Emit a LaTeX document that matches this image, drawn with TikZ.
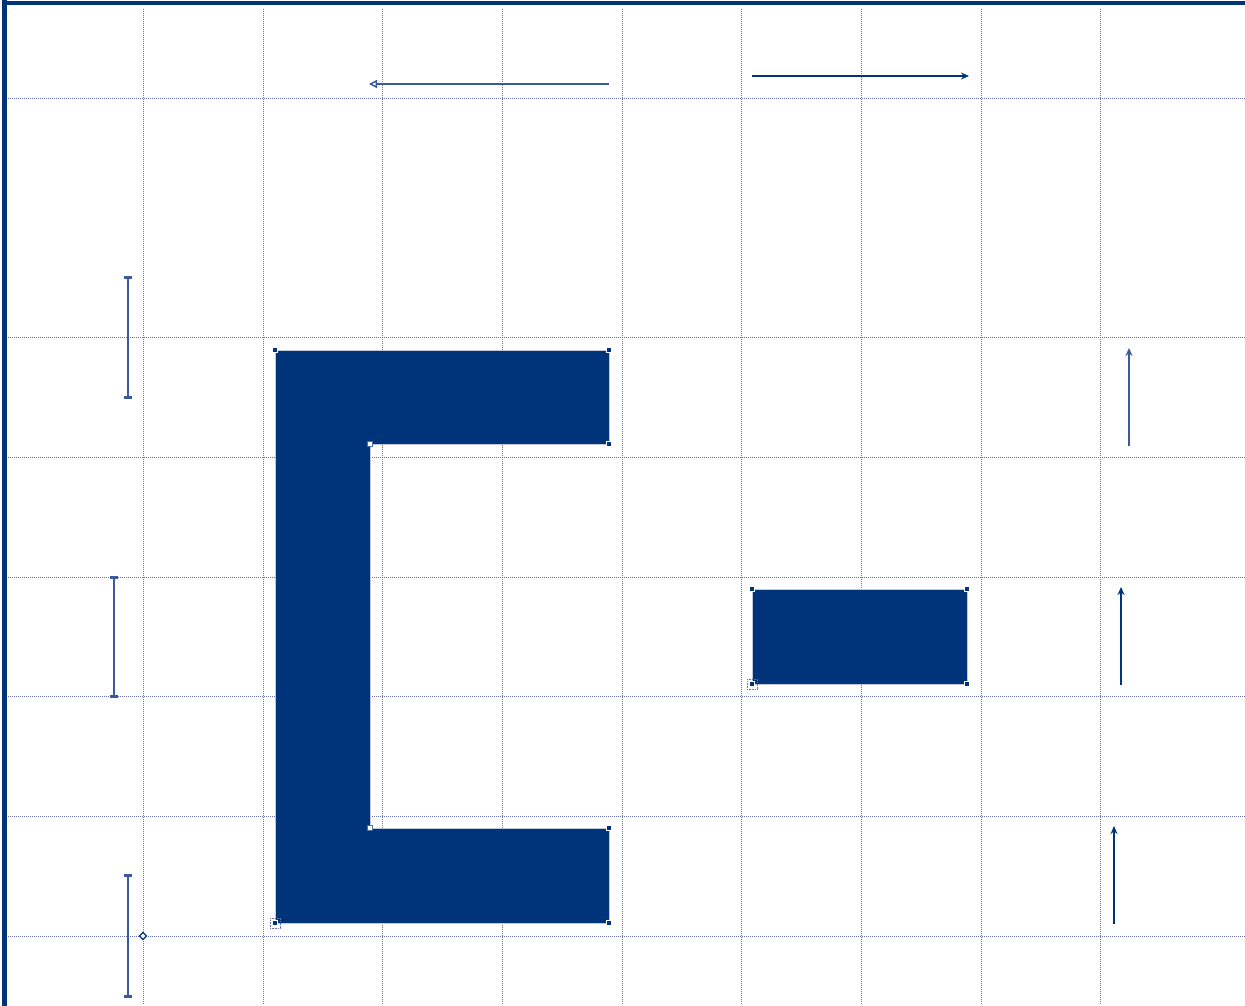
\documentclass[tikz,border=0pt]{standalone}
\usetikzlibrary{arrows.meta}
\definecolor{navy}{RGB}{0,52,122}
\definecolor{gridc}{RGB}{105,115,175}
\definecolor{arrc}{RGB}{60,88,158}
\tikzset{
  gridline/.style={draw=gridc, line width=0.9pt, dash pattern=on 1pt off 1pt},
  shapefill/.style={fill=navy, draw=gridc!40, line width=0.8pt},
  handle/.style={fill=navy, draw=white, line width=0.5pt, minimum size=5pt, inner sep=0pt, rectangle},
  ihandle/.style={fill=white, draw=navy!70, line width=0.8pt, minimum size=5pt, inner sep=0pt, rectangle},
  ohandle/.style={draw=gridc, line width=0.6pt, dash pattern=on 1pt off 0.6pt, minimum size=10pt, inner sep=0pt, rectangle},
  measure/.style={draw=arrc, line width=1.5pt, {Bar[width=8pt,line width=2.8pt]}-{Bar[width=8pt,line width=2.8pt]}},
  uparrow/.style={draw=navy, line width=1.5pt, -{Stealth[length=8pt,width=7pt]}},
}
\begin{document}
\begin{tikzpicture}[x=1pt,y=-1pt]
\useasboundingbox (0,0) rectangle (1245,1006);
\fill[white] (0,0) rectangle (1245,1006);
% grid
\foreach \gx in {143,263,382,502,622,741,861,981,1100}
  \draw[gridline] (\gx,9) -- (\gx,1004);
\foreach \gy in {98,337,457,577,696,816,936}
  \draw[gridline] (8,\gy) -- (1245,\gy);
% frame
\fill[navy] (2,0) rectangle (7,1006);
\fill[navy] (2,1) rectangle (1245,5);
% C shape
\path[shapefill] (275,350) -- (609,350) -- (609,444) -- (370,444) -- (370,828) -- (609,828) -- (609,923) -- (275,923) -- cycle;
\node[handle] (c1) at (275,350) {};
\node[handle] (c2) at (609,350) {};
\node[handle] (c3) at (609,444) {};
\node[ihandle] (c4) at (370,444) {};
\node[ihandle] (c5) at (370,828) {};
\node[handle] (c6) at (609,828) {};
\node[handle] (c7) at (609,923) {};
\node[ohandle] (c8o) at (275,923) {};
\node[handle] (c8) at (275,923) {};
% rectangle
\path[shapefill] (752,589) rectangle (967,684);
\node[handle] (r1) at (752,589) {};
\node[handle] (r2) at (967,589) {};
\node[handle] (r3) at (967,684) {};
\node[ohandle] (r4o) at (752,684) {};
\node[handle] (r4) at (752,684) {};
% top arrows
\coordinate (ta1) at (609,84);
\coordinate (ta2) at (369,84);
\draw[draw=arrc, line width=1.5pt, -{Triangle[open,length=8pt,width=8pt]}] (ta1) -- (ta2);
\coordinate (tb1) at (752,76);
\coordinate (tb2) at (969,76);
\draw[uparrow] (tb1) -- (tb2);
% right arrows
\coordinate (ra1) at (1129,446); \coordinate (ra2) at (1129,348);
\draw[uparrow, draw=arrc] (ra1) -- (ra2);
\coordinate (rb1) at (1121,685); \coordinate (rb2) at (1121,587);
\draw[uparrow] (rb1) -- (rb2);
\coordinate (rc1) at (1114,924); \coordinate (rc2) at (1114,826);
\draw[uparrow] (rc1) -- (rc2);
% left measures
\coordinate (la1) at (128,276); \coordinate (la2) at (128,399);
\draw[measure] (la1) -- (la2);
\coordinate (lb1) at (114,576); \coordinate (lb2) at (114,698);
\draw[measure] (lb1) -- (lb2);
\coordinate (lc1) at (128,874); \coordinate (lc2) at (128,998);
\draw[measure] (lc1) -- (lc2);
% small marker
\node[draw=navy, fill=white, line width=1.3pt, minimum size=5pt, inner sep=0pt, rotate=45, rectangle] (mk) at (143,936) {};
\end{tikzpicture}
\end{document}
